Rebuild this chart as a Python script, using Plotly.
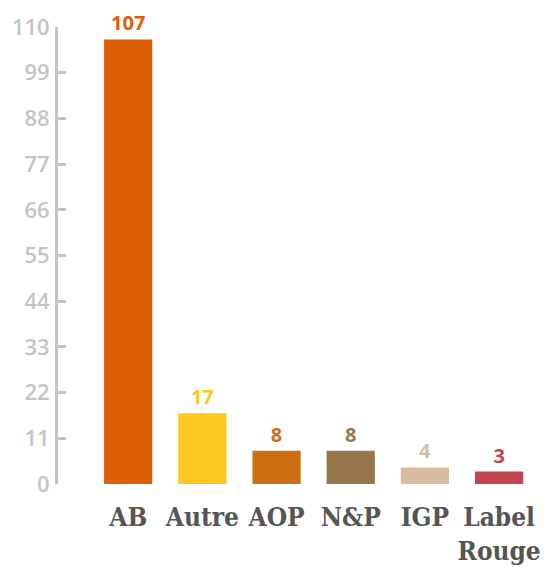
import plotly.graph_objects as go

categories = ["AB", "Autre", "AOP", "N&P", "IGP", "Label Rouge"]
tick_labels = ["AB", "Autre", "AOP", "N&P", "IGP", "Label<br>Rouge"]
values = [107, 17, 8, 8, 4, 3]
colors = ["#DC5F05", "#FDC81F", "#CC6F12", "#98774D", "#D9BC9E", "#C2444E"]
y_ticks = [0, 11, 22, 33, 44, 55, 66, 77, 88, 99, 110]

fig = go.Figure(go.Bar(
    x=categories, y=values,
    marker=dict(color=colors, line=dict(width=0)),
    width=0.65,
    text=[str(v) for v in values],
    textposition="outside",
    textfont=dict(color=colors, size=20, family="Open Sans", weight=700),
    cliponaxis=False,
))

fig.update_layout(
    width=546, height=559,
    margin=dict(l=50, r=0, t=19, b=83),
    plot_bgcolor="white", paper_bgcolor="white",
    showlegend=False,
    xaxis=dict(
        range=[-0.946, 5.74], automargin=False,
        tickmode="array", tickvals=categories, ticktext=tick_labels,
        showgrid=False, showline=False, zeroline=False, ticks="",
        tickfont=dict(family="DejaVu Serif Condensed", size=26, color="#555555", weight=700),
        ticklabelstandoff=15,
    ),
    yaxis=dict(
        range=[0, 110], tickmode="array", tickvals=y_ticks, automargin=False,
        showgrid=False, zeroline=False,
        showline=True, linecolor="#c4c4c4", linewidth=3,
        ticks="inside", ticklen=8, tickwidth=3, tickcolor="#c4c4c4",
        tickfont=dict(family="Open Sans", size=22, color="#c4c4c4", weight=600),
        ticklabelstandoff=1,
    ),
)

fig.write_html("out.html")
